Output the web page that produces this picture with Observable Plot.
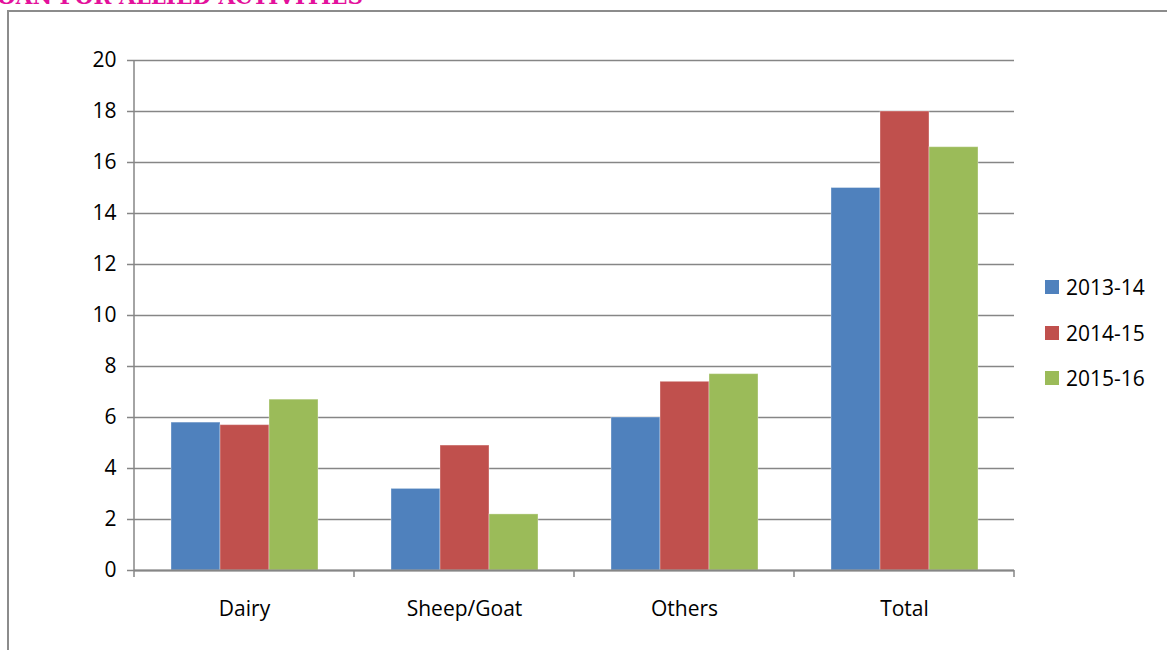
<!DOCTYPE html>
<html>
<head>
<meta charset="utf-8">
<script src="https://cdn.jsdelivr.net/npm/d3@7"></script>
<script src="https://cdn.jsdelivr.net/npm/@observablehq/plot@0.6"></script>
<style>
  html, body { margin: 0; padding: 0; background: #fff; }
  #wrap { position: relative; width: 1167px; height: 650px; overflow: hidden; background: #fff; }
  #frame { position: absolute; left: 7px; top: 10px; width: 1300px; height: 800px;
           border-left: 2px solid #8c8c8c; border-top: 2px solid #8c8c8c; box-sizing: border-box; }
  #title { position: absolute; right: 804px; top: -14px; white-space: nowrap;
           font-family: "DejaVu Serif", serif; font-weight: bold; font-size: 21.5px; line-height: 21.5px;
           color: #E3119B; }
  #chart { position: absolute; left: 0; top: 0; }
  #legend { position: absolute; left: 1045px; top: 273px; font-family: "Open Sans", sans-serif;
            font-size: 21px; color: #000; }
  .row { display: flex; align-items: center; height: 28px; margin-bottom: 17.5px; }
  .sw { width: 14px; height: 14px; margin-right: 7px; }
</style>
</head>
<body>
<div id="wrap">
  <div id="frame"></div>
  <div id="title">LOAN FOR ALLIED ACTIVITIES</div>
  <div id="chart"></div>
  <div id="legend"></div>
</div>
<script>
const categories = ["Dairy", "Sheep/Goat", "Others", "Total"];
const series = ["2013-14", "2014-15", "2015-16"];
const colors = ["#4F81BD", "#C0504D", "#9BBB59"];
const values2013 = [5.8, 3.2, 6.0, 15.0];
const values2014 = [5.7, 4.9, 7.4, 18.0];
const values2015 = [6.7, 2.2, 7.7, 16.6];
const yTicks = [0, 2, 4, 6, 8, 10, 12, 14, 16, 18, 20];

const seriesValues = [values2013, values2014, values2015];
const data = [];
categories.forEach((c, i) => {
  series.forEach((s, j) => data.push({category: c, series: s, value: seriesValues[j][i]}));
});

const grid = "#868686";
const chart = Plot.plot({
  width: 1167,
  height: 650,
  marginLeft: 133,
  marginRight: 152,
  marginTop: 60,
  marginBottom: 80,
  style: {fontFamily: "Open Sans, sans-serif", fontSize: "21px", background: "transparent", color: "#000"},
  fx: {domain: categories, paddingInner: 0, paddingOuter: 0, label: null, axis: null},
  x: {domain: series, paddingInner: 0, paddingOuter: 0.72, axis: null},
  y: {domain: [0, 20], label: null},
  color: {domain: series, range: colors},
  marks: [
    Plot.gridY(yTicks, {stroke: grid, strokeOpacity: 1, strokeWidth: 1.5}),
    Plot.barY(data, {fx: "category", x: "series", y: "value", fill: "series",
                     stroke: "#ffffff", strokeOpacity: 0.35, strokeWidth: 1}),
    Plot.ruleY([0], {stroke: grid, strokeWidth: 2}),
    Plot.axisY(yTicks, {tickSize: 7, tickPadding: 11, stroke: grid, strokeWidth: 1.5, fill: "#000", label: null}),
    Plot.axisFx({anchor: "bottom", tickSize: 0, tickPadding: 31, label: null, fill: "#000"})
  ]
});
document.getElementById("chart").appendChild(chart);

// axis line and category boundary ticks, positioned from the chart's own scales
const svg = d3.select(chart);
const fx = chart.scale("fx");
const y = chart.scale("y");
const y0 = y.apply(0), y20 = y.apply(20);
const left = fx.apply(categories[0]);
const bw = fx.bandwidth;
const g = svg.append("g").attr("stroke", grid).attr("stroke-width", 1.5);
g.append("line").attr("x1", left).attr("x2", left).attr("y1", y20).attr("y2", y0 + 7);
categories.forEach(c => {
  const xr = fx.apply(c) + bw;
  g.append("line").attr("x1", xr).attr("x2", xr).attr("y1", y0).attr("y2", y0 + 7);
});

const legend = document.getElementById("legend");
series.forEach((s, i) => {
  const row = document.createElement("div");
  row.className = "row";
  row.innerHTML = `<div class="sw" style="background:${colors[i]}"></div><span>${s}</span>`;
  legend.appendChild(row);
});
</script>
</body>
</html>
